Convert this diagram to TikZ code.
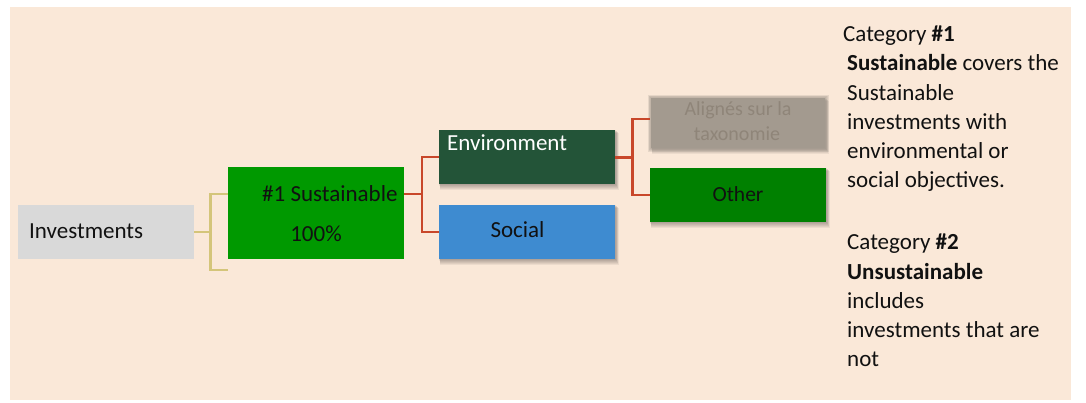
\documentclass[tikz,border=0pt]{standalone}
\usepackage{fontspec}
\setmainfont{Carlito}
\usetikzlibrary{calc}
\pgfdeclarelayer{back}
\pgfdeclarelayer{shadow}
\pgfsetlayers{back,shadow,main}
\definecolor{bgc}{HTML}{FAE8D8}
\definecolor{invc}{HTML}{D9D9D9}
\definecolor{susc}{HTML}{009900}
\definecolor{envc}{HTML}{235438}
\definecolor{socc}{HTML}{3E8BD0}
\definecolor{othc}{HTML}{008000}
\definecolor{alic}{HTML}{A39A8F}
\definecolor{alit}{HTML}{8F8579}
\definecolor{goldc}{HTML}{D4C57A}
\definecolor{redc}{HTML}{C8472A}
\definecolor{txtc}{HTML}{111111}
\tikzset{
  box/.style={rectangle, inner sep=0pt, draw=none, anchor=north west},
  lbl/.style={inner sep=0pt, anchor=base west, font=\fontsize{23}{28}\selectfont, text=txtc},
  goldline/.style={draw=goldc, line width=2.4pt},
  redline/.style={draw=redc, line width=2.3pt},
}
\newcommand\softshade[1]{%
  \begin{pgfonlayer}{shadow}
  \foreach \k in {1,...,6} {
    \fill[black, opacity=0.055] ($(#1.north west)+(0.2*\k,0.5*\k)$) rectangle ($(#1.south east)+(0.55*\k,0.9*\k)$);
  }
  \end{pgfonlayer}}
\begin{document}
\begin{tikzpicture}[x=1pt,y=-1pt]
\useasboundingbox (0,0) rectangle (1086,403);
\begin{pgfonlayer}{back}
\fill[bgc] (10,7) rectangle (1071,400);
\end{pgfonlayer}

% boxes
\node[box, fill=invc, minimum width=176pt, minimum height=54pt] (inv) at (18,205) {};
\node[box, fill=susc, minimum width=176pt, minimum height=92pt] (sus) at (228,167) {};
\node[box, fill=envc, minimum width=176pt, minimum height=54pt] (env) at (439,130) {};
\node[box, fill=socc, minimum width=176pt, minimum height=54pt] (soc) at (439,205) {};
\node[box, fill=alic, minimum width=174pt, minimum height=50pt] (ali) at (651,98) {};
\node[box, fill=othc, minimum width=176pt, minimum height=54pt] (oth) at (650,168) {};
\softshade{env}
\softshade{soc}
\softshade{oth}
\softshade{ali}
% blurred edge of the aligned box
\begin{pgfonlayer}{shadow}
\foreach \k in {1,...,4} {
  \fill[alic, opacity=0.22] ($(ali.north west)+(-0.8*\k,-0.8*\k)$) rectangle ($(ali.south east)+(0.8*\k,0.8*\k)$);
}
\end{pgfonlayer}

% connectors
\coordinate (gend) at (228,270);
\draw[goldline] (inv.east) -- ++(16,0) coordinate (gb);
\draw[goldline] (sus.west |- 0,194) -| (gb) |- (gend);
\coordinate (rb) at (422,194);
\draw[redline, line width=2.8pt] (sus.east |- rb) -- (rb);
\draw[redline] (env.west) -| (rb) |- (soc.west);
\draw[redline, line width=2.8pt] (env.east) -- ++(17,0) coordinate (rb2);
\draw[redline] (650,119) -| (rb2) |- (oth.west);

% box texts
\node[lbl] (invT) at (29,239) {Investments};
\node[lbl] (susT) at (262,202) {\#1 Sustainable};
\node[lbl, anchor=base] (susP) at (316,242) {100\%};
\node[lbl, text=white] (envT) at (447,151) {Environment};
\node[lbl, anchor=base] (socT) at (517.5,238) {Social};
\node[lbl, anchor=base, font=\fontsize{21.5}{26}\selectfont] (othT) at (738,202) {Other};
\node[lbl, anchor=base, font=\fontsize{20}{24}\selectfont, text=alit] (aliT1) at (738,116) {Alignés sur la};
\node[lbl, anchor=base, font=\fontsize{20}{24}\selectfont, text=alit] (aliT2) at (737,141) {taxonomie};

% right text
\node[lbl] (r1) at (843,42) {Category \textbf{\#1}};
\node[lbl] (r2) at (847,71) {\textbf{Sustainable} covers the};
\node[lbl] (r3) at (847,100.5) {Sustainable};
\node[lbl] (r4) at (847,129.5) {investments with};
\node[lbl] (r5) at (847,158.5) {environmental or};
\node[lbl] (r6) at (847,187.5) {social objectives.};
\node[lbl] (r7) at (847,250) {Category \textbf{\#2}};
\node[lbl] (r8) at (847,279) {\textbf{Unsustainable}};
\node[lbl] (r9) at (847,308) {includes};
\node[lbl] (r10) at (847,337) {investments that are};
\node[lbl] (r11) at (847,366) {not};
\end{tikzpicture}
\end{document}
